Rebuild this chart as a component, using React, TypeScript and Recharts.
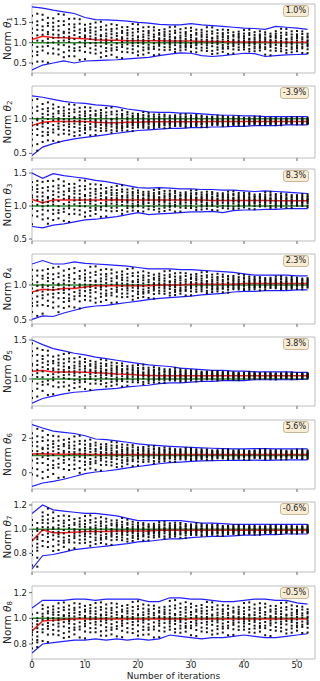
import React from "react";
import {
  ComposedChart,
  Line,
  Scatter,
  XAxis,
  YAxis,
  ReferenceArea,
} from "recharts";

const ITER_X = [0, 2, 4, 6, 8, 10, 12, 14, 16, 18, 20, 22, 24, 26, 28, 30, 32, 34, 36, 38, 40, 42, 44, 46, 48, 50, 52];
// iterations that carry a column of samples
const DOT_X = [
  0, 1, 2, 3, 4, 5, 6, 7, 8, 9, 10, 11, 12, 13, 14, 15, 16, 17, 18, 19, 20, 21, 22, 23, 24, 25, 26,
  27, 28, 29, 30, 31, 32, 33, 34, 35, 36, 37, 38, 39, 40, 41, 42, 43, 44, 45, 46, 47, 48, 49, 50, 51, 52,
];
const X_TICKS = [0, 10, 20, 30, 40, 50];
const TARGET = 1;

const UPPER_1 = [1.88, 1.85, 1.8, 1.76, 1.72, 1.62, 1.57, 1.56, 1.55, 1.53, 1.5, 1.48, 1.45, 1.44, 1.44, 1.47, 1.44, 1.42, 1.4, 1.38, 1.36, 1.35, 1.33, 1.4, 1.38, 1.36, 1.33];
const LOWER_1 = [0.33, 0.45, 0.5, 0.55, 0.5, 0.55, 0.56, 0.57, 0.58, 0.6, 0.62, 0.64, 0.68, 0.72, 0.75, 0.74, 0.68, 0.66, 0.68, 0.71, 0.74, 0.73, 0.66, 0.68, 0.7, 0.71, 0.72];
const MEAN_1 = [1.08, 1.16, 1.13, 1.12, 1.11, 1.1, 1.07, 1.06, 1.06, 1.05, 1.05, 1.05, 1.05, 1.04, 1.04, 1.04, 1.03, 1.03, 1.03, 1.02, 1.02, 1.02, 1.02, 1.01, 1.01, 1.01, 1.01];

const UPPER_2 = [1.33, 1.31, 1.28, 1.25, 1.23, 1.22, 1.2, 1.19, 1.17, 1.14, 1.12, 1.1, 1.09, 1.09, 1.08, 1.08, 1.07, 1.06, 1.05, 1.05, 1.04, 1.04, 1.03, 1.03, 1.03, 1.03, 1.03];
const LOWER_2 = [0.47, 0.59, 0.64, 0.68, 0.71, 0.73, 0.75, 0.77, 0.79, 0.81, 0.83, 0.84, 0.85, 0.86, 0.86, 0.87, 0.87, 0.88, 0.88, 0.89, 0.89, 0.9, 0.9, 0.9, 0.91, 0.91, 0.91];
const MEAN_2 = [0.9, 0.95, 0.96, 0.96, 0.96, 0.96, 0.95, 0.94, 0.94, 0.95, 0.95, 0.955, 0.955, 0.955, 0.955, 0.955, 0.955, 0.96, 0.96, 0.96, 0.96, 0.96, 0.96, 0.96, 0.96, 0.96, 0.96];

const UPPER_3 = [1.5, 1.42, 1.49, 1.46, 1.44, 1.42, 1.39, 1.37, 1.34, 1.31, 1.28, 1.27, 1.28, 1.27, 1.26, 1.26, 1.25, 1.25, 1.24, 1.24, 1.23, 1.22, 1.23, 1.22, 1.21, 1.2, 1.19];
const LOWER_3 = [0.69, 0.67, 0.71, 0.73, 0.76, 0.79, 0.8, 0.82, 0.84, 0.87, 0.9, 0.87, 0.88, 0.89, 0.9, 0.91, 0.91, 0.92, 0.9, 0.93, 0.94, 0.94, 0.95, 0.95, 0.96, 0.96, 0.96];
const MEAN_3 = [1.1, 1.05, 1.09, 1.09, 1.09, 1.09, 1.09, 1.09, 1.095, 1.09, 1.09, 1.09, 1.09, 1.09, 1.09, 1.09, 1.09, 1.085, 1.085, 1.085, 1.085, 1.085, 1.085, 1.08, 1.08, 1.08, 1.08];

const UPPER_4 = [1.3, 1.35, 1.3, 1.3, 1.33, 1.31, 1.3, 1.29, 1.28, 1.27, 1.25, 1.23, 1.23, 1.23, 1.22, 1.22, 1.21, 1.2, 1.19, 1.18, 1.16, 1.14, 1.14, 1.14, 1.14, 1.13, 1.13];
const LOWER_4 = [0.51, 0.56, 0.55, 0.6, 0.64, 0.68, 0.7, 0.71, 0.73, 0.75, 0.77, 0.79, 0.81, 0.82, 0.83, 0.84, 0.86, 0.87, 0.88, 0.9, 0.91, 0.91, 0.92, 0.92, 0.92, 0.93, 0.93];
const MEAN_4 = [0.9, 0.94, 0.93, 0.95, 0.95, 0.97, 0.99, 0.99, 0.99, 0.99, 0.99, 0.99, 1.0, 1.0, 1.0, 1.01, 1.01, 1.01, 1.01, 1.01, 1.02, 1.02, 1.02, 1.02, 1.02, 1.02, 1.02];

const UPPER_5 = [1.5, 1.44, 1.39, 1.36, 1.33, 1.31, 1.28, 1.26, 1.24, 1.22, 1.2, 1.18, 1.17, 1.16, 1.14, 1.13, 1.12, 1.11, 1.11, 1.1, 1.1, 1.09, 1.09, 1.09, 1.09, 1.085, 1.085];
const LOWER_5 = [0.69, 0.75, 0.78, 0.81, 0.83, 0.84, 0.86, 0.87, 0.88, 0.9, 0.91, 0.92, 0.94, 0.95, 0.95, 0.96, 0.97, 0.97, 0.98, 0.98, 0.98, 0.99, 0.99, 0.99, 0.99, 0.99, 1.0];
const MEAN_5 = [1.1, 1.11, 1.09, 1.09, 1.09, 1.085, 1.08, 1.075, 1.065, 1.06, 1.05, 1.045, 1.04, 1.04, 1.04, 1.04, 1.04, 1.04, 1.04, 1.04, 1.04, 1.04, 1.04, 1.04, 1.04, 1.04, 1.04];

const UPPER_6 = [2.8, 2.6, 2.42, 2.35, 2.28, 2.15, 1.96, 1.92, 1.85, 1.77, 1.68, 1.62, 1.57, 1.53, 1.5, 1.47, 1.44, 1.42, 1.4, 1.38, 1.38, 1.4, 1.4, 1.38, 1.39, 1.39, 1.38];
const LOWER_6 = [-0.8, -0.6, -0.5, -0.38, -0.22, -0.05, 0.04, 0.1, 0.18, 0.28, 0.36, 0.44, 0.52, 0.58, 0.62, 0.66, 0.69, 0.7, 0.71, 0.72, 0.72, 0.73, 0.72, 0.73, 0.74, 0.74, 0.74];
const MEAN_6 = [1.08, 1.1, 1.08, 1.07, 1.08, 1.07, 1.06, 1.06, 1.06, 1.06, 1.06, 1.06, 1.06, 1.06, 1.06, 1.06, 1.06, 1.06, 1.06, 1.06, 1.06, 1.06, 1.06, 1.06, 1.06, 1.06, 1.06];

const UPPER_7 = [1.13, 1.2, 1.16, 1.15, 1.14, 1.13, 1.13, 1.12, 1.11, 1.09, 1.07, 1.07, 1.07, 1.07, 1.07, 1.06, 1.05, 1.05, 1.045, 1.04, 1.04, 1.04, 1.04, 1.04, 1.04, 1.04, 1.04];
const LOWER_7 = [0.67, 0.78, 0.79, 0.81, 0.83, 0.84, 0.85, 0.86, 0.87, 0.88, 0.895, 0.9, 0.91, 0.92, 0.92, 0.93, 0.935, 0.94, 0.94, 0.945, 0.95, 0.95, 0.955, 0.955, 0.96, 0.96, 0.96];
const MEAN_7 = [0.9, 0.995, 0.97, 0.97, 0.975, 0.98, 0.98, 0.98, 0.985, 0.985, 0.985, 0.985, 0.99, 0.99, 0.99, 0.99, 0.99, 0.99, 0.99, 0.99, 0.99, 0.99, 0.99, 0.99, 0.99, 0.99, 0.99];

const UPPER_8 = [1.08, 1.14, 1.14, 1.14, 1.15, 1.15, 1.14, 1.15, 1.15, 1.15, 1.15, 1.13, 1.13, 1.16, 1.16, 1.15, 1.15, 1.14, 1.13, 1.13, 1.14, 1.15, 1.15, 1.14, 1.14, 1.12, 1.11];
const LOWER_8 = [0.73, 0.8, 0.81, 0.82, 0.83, 0.83, 0.84, 0.83, 0.84, 0.83, 0.84, 0.83, 0.84, 0.87, 0.86, 0.85, 0.84, 0.85, 0.85, 0.86, 0.87, 0.86, 0.85, 0.85, 0.86, 0.87, 0.88];
const MEAN_8 = [0.9, 0.98, 0.985, 0.99, 0.995, 0.995, 0.995, 0.995, 0.995, 0.995, 0.995, 0.995, 0.995, 0.995, 0.995, 0.995, 0.995, 0.995, 0.995, 0.995, 0.995, 0.995, 0.995, 0.995, 0.995, 0.995, 0.995];

const BADGES = ["1.0%", "-3.9%", "8.3%", "2.3%", "3.8%", "5.6%", "-0.6%", "-0.5%"];
const Y_DOMAINS = [
  [0.254, 1.953],
  [0.433, 1.472],
  [0.47, 1.561],
  [0.443, 1.443],
  [0.654, 1.538],
  [-0.948, 3.064],
  [0.645, 1.225],
  [0.683, 1.252],
];
const Y_TICKS = [
  [0.5, 1.0, 1.5],
  [0.5, 1.0],
  [0.5, 1.0, 1.5],
  [0.5, 1.0],
  [1.0, 1.5],
  [0, 2],
  [0.8, 1.0, 1.2],
  [0.8, 1.0, 1.2],
];

// relative position of each sample inside the envelope (hand picked)
const PATTERNS = [
  [-0.88, -0.61, -0.43, -0.2, -0.07, 0.05, 0.22, 0.37, 0.58, 0.81],
  [-0.74, -0.52, -0.31, -0.16, 0.0, 0.11, 0.29, 0.46, 0.67, 0.95],
  [-1.02, -0.66, -0.38, -0.25, -0.1, 0.08, 0.17, 0.41, 0.52, 0.73],
  [-0.81, -0.57, -0.45, -0.27, -0.04, 0.14, 0.33, 0.49, 0.62, 0.88],
  [-0.93, -0.69, -0.35, -0.13, 0.03, 0.2, 0.26, 0.55, 0.71, 0.99],
  [-0.7, -0.48, -0.22, -0.02, 0.12, 0.31, 0.44, 0.6, 0.78],
  [-0.97, -0.55, -0.4, -0.18, 0.06, 0.24, 0.39, 0.65, 0.85],
];
const SPREAD = 0.9;

const UPPERS = [UPPER_1, UPPER_2, UPPER_3, UPPER_4, UPPER_5, UPPER_6, UPPER_7, UPPER_8];
const LOWERS = [LOWER_1, LOWER_2, LOWER_3, LOWER_4, LOWER_5, LOWER_6, LOWER_7, LOWER_8];
const MEANS = [MEAN_1, MEAN_2, MEAN_3, MEAN_4, MEAN_5, MEAN_6, MEAN_7, MEAN_8];

// frame top / bottom of each subplot, px
const FRAME_TOP = [4, 86, 169, 254, 337, 420, 502, 586];
const FRAME_BOTTOM = [73, 158, 241, 324, 406, 489, 572, 659];

const X_MAX = 53.4;
const FONT = "DejaVu Sans, sans-serif";
const TICK_STYLE = { fontSize: 8.5, fill: "#222", fontFamily: FONT };

const Dot = (props: any) => (
  <rect x={props.cx - 1} y={props.cy - 1} width={2} height={2} fill="#111" />
);

function Panel({ idx }: { idx: number }) {
  const upper = UPPERS[idx];
  const lower = LOWERS[idx];
  const mean = MEANS[idx];
  const lineData = ITER_X.map((x, i) => ({
    x,
    up: upper[i],
    lo: lower[i],
    mean: mean[i],
    target: TARGET,
  }));
  const dots: { x: number; y: number }[] = [];
  DOT_X.forEach((x) => {
    const k = Math.floor(x / 2);
    const m = mean[k];
    const pat = PATTERNS[(x * 3 + idx) % PATTERNS.length];
    pat.forEach((f) => {
      const span = f > 0 ? upper[k] - m : m - lower[k];
      dots.push({ x, y: m + f * SPREAD * span });
    });
  });

  const last = idx === 7;
  const top = FRAME_TOP[idx];
  const bottom = FRAME_BOTTOM[idx];
  const xAxisH = last ? 22 : 4;
  const height = bottom - top + 4 + xAxisH;
  const [lo, hi] = Y_DOMAINS[idx];
  const fmt = (v: number) => (idx === 5 ? String(v) : v.toFixed(1));
  const labelY = 4 + (bottom - top) / 2;

  return (
    <div style={{ position: "absolute", left: 0, top: top - 4, width: 320, height }}>
      <ComposedChart
        width={320}
        height={height}
        data={lineData}
        margin={{ top: 4, right: 5, bottom: 0, left: 0 }}
      >
        <XAxis
          type="number"
          dataKey="x"
          domain={[0, X_MAX]}
          ticks={X_TICKS}
          allowDataOverflow
          axisLine={false}
          tickSize={3}
          tickLine={{ stroke: "#666" }}
          height={xAxisH}
          tick={last ? TICK_STYLE : () => <g />}
          tickMargin={0}
          label={
            last
              ? {
                  value: "Number of iterations",
                  position: "insideBottom",
                  offset: 2,
                  style: { fontSize: 9, fill: "#222", fontFamily: FONT },
                }
              : undefined
          }
        />
        <YAxis
          type="number"
          dataKey="y"
          domain={[lo, hi]}
          ticks={Y_TICKS[idx]}
          allowDataOverflow
          axisLine={false}
          width={32}
          tickSize={3}
          tickMargin={2}
          tickLine={{ stroke: "#666" }}
          tick={TICK_STYLE}
          tickFormatter={fmt}
        />
        <ReferenceArea
          x1={0}
          x2={X_MAX}
          y1={lo}
          y2={hi}
          fill="none"
          stroke="#bdbdbd"
          strokeWidth={1}
        />
        <Scatter data={dots} dataKey="y" shape={Dot} isAnimationActive={false} />
        <Line
          dataKey="target"
          stroke="#2e8b2e"
          strokeWidth={1.5}
          dot={false}
          isAnimationActive={false}
        />
        <Line
          dataKey="up"
          stroke="#1f1fff"
          strokeWidth={1.2}
          dot={false}
          isAnimationActive={false}
        />
        <Line
          dataKey="lo"
          stroke="#1f1fff"
          strokeWidth={1.2}
          dot={false}
          isAnimationActive={false}
        />
        <Line
          dataKey="mean"
          stroke="#ff1a1a"
          strokeWidth={1.5}
          dot={false}
          isAnimationActive={false}
        />
      </ComposedChart>
      <svg
        width={16}
        height={height}
        style={{ position: "absolute", left: 0, top: 0, overflow: "visible" }}
      >
        <text
          x={7}
          y={labelY}
          transform={`rotate(-90 7 ${labelY})`}
          textAnchor="middle"
          dominantBaseline="central"
          fontSize={10.5}
          fontFamily={FONT}
          fill="#222"
        >
          Norm <tspan fontStyle="italic">θ</tspan>
          <tspan fontSize={7} dy={3}>
            {idx + 1}
          </tspan>
        </text>
      </svg>
      <div
        style={{
          position: "absolute",
          right: 11,
          top: 5,
          height: 10,
          padding: "0 2px",
          fontSize: 8,
          lineHeight: "10px",
          fontFamily: FONT,
          color: "#222",
          background: "#f8ecd4",
          border: "1px solid #c8b896",
          borderRadius: 3,
        }}
      >
        {BADGES[idx]}
      </div>
    </div>
  );
}

export default function App() {
  return (
    <div
      style={{
        position: "absolute",
        left: 0,
        top: 0,
        width: 320,
        height: 681,
        background: "#fff",
      }}
    >
      {BADGES.map((_, i) => (
        <Panel key={i} idx={i} />
      ))}
    </div>
  );
}
